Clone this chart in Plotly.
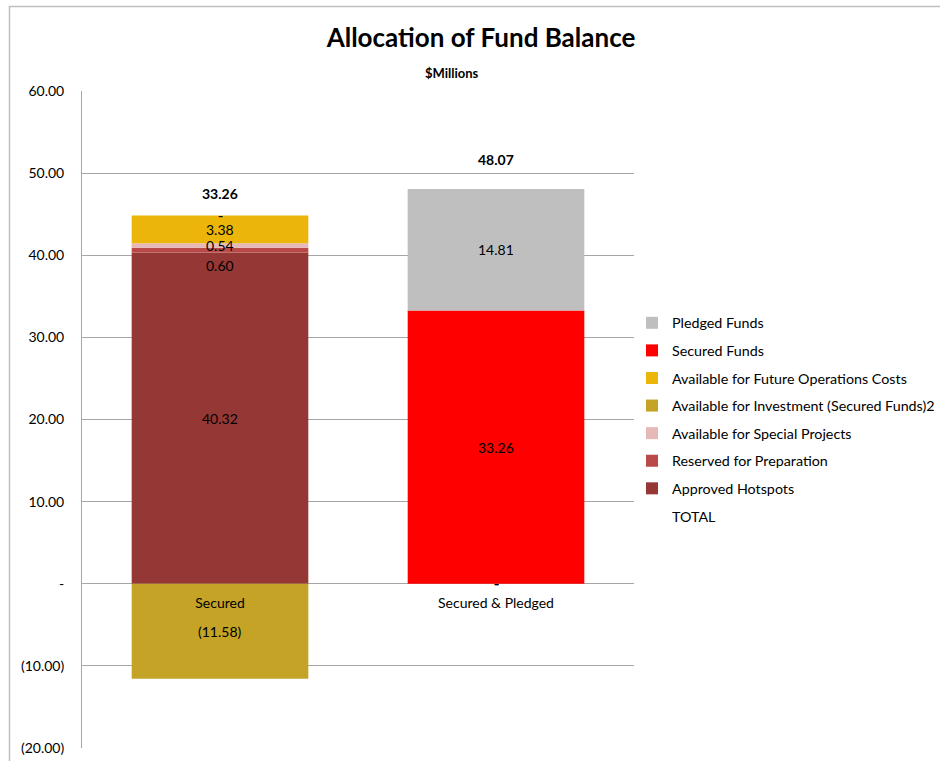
import plotly.graph_objects as go

categories = ["Secured", "Secured & Pledged"]

# series in stacking order (bottom to top)
series_names = [
    "Approved Hotspots",
    "Reserved for Preparation",
    "Available for Special Projects",
    "Available for Investment (Secured Funds)2",
    "Available for Future Operations Costs",
    "Secured Funds",
    "Pledged Funds",
]
approved_hotspots = [40.32, 0.0]
reserved_preparation = [0.60, 0.0]
special_projects = [0.54, 0.0]
investment = [-11.58, 0.0]
future_operations = [3.38, 0.0]
secured_funds = [0.0, 33.26]
pledged_funds = [0.0, 14.81]
totals = [33.26, 48.07]

series_values = [approved_hotspots, reserved_preparation, special_projects,
                 investment, future_operations, secured_funds, pledged_funds]
series_colors = ["#953735", "#B94A48", "#E6B9B8", "#C4A326", "#EBB50A", "#FF0000", "#BFBFBF"]
legend_order = {  # rank in the legend (top first)
    "Pledged Funds": 1, "Secured Funds": 2, "Available for Future Operations Costs": 3,
    "Available for Investment (Secured Funds)2": 4, "Available for Special Projects": 5,
    "Reserved for Preparation": 6, "Approved Hotspots": 7, "TOTAL": 8,
}

y_tickvals = [-20, -10, 0, 10, 20, 30, 40, 50, 60]
y_ticktext = ["(20.00)", "(10.00)", "-", "10.00", "20.00", "30.00", "40.00", "50.00", "60.00"]


def fmt(v):
    if abs(v) < 1e-9:
        return "-"
    if v < 0:
        return "({:,.2f})".format(-v)
    return "{:,.2f}".format(v)


FONT = "Lato, Calibri, 'Liberation Sans', sans-serif"
GRID = "#A6A6A6"
FS = 14

fig = go.Figure()
annotations = []
pos_top = [0.0] * len(categories)
neg_bot = [0.0] * len(categories)
label_shift = {("Reserved for Preparation", 0): -15}

for name, vals, col in zip(series_names, series_values, series_colors):
    fig.add_trace(go.Bar(
        x=categories, y=vals, name=name, marker=dict(color=col, line=dict(width=0)),
        legendgroup=name, legendrank=legend_order[name], textposition="none",
    ))
    for i, v in enumerate(vals):
        if v >= 0:
            base = pos_top[i]
            pos_top[i] += v
        else:
            base = neg_bot[i]
            neg_bot[i] += v
        annotations.append(dict(
            x=categories[i], y=base + v / 2, xref="x", yref="y", text=fmt(v),
            showarrow=False, font=dict(size=FS, color="#000000", family=FONT),
            yshift=label_shift.get((name, i), 0),
        ))

# TOTAL legend entry (no visible marker)
fig.add_trace(go.Bar(
    x=categories, y=[0.0, 0.0], name="TOTAL",
    marker=dict(color="rgba(0,0,0,0)", line=dict(width=0, color="rgba(0,0,0,0)")),
    legendgroup="TOTAL", legendrank=legend_order["TOTAL"], hoverinfo="skip", textposition="none",
))

total_shift = [22, 29]
for i, t in enumerate(totals):
    annotations.append(dict(
        x=categories[i], y=pos_top[i], xref="x", yref="y", text="<b>" + fmt(t) + "</b>",
        showarrow=False, yshift=total_shift[i],
        font=dict(size=FS, color="#000000", family=FONT),
    ))

annotations.append(dict(
    x=(481 - 82) / 552, y=1 + (91 - 63) / 657, xref="paper", yref="paper",
    text="<b>$Millions</b>", showarrow=False, font=dict(size=13, color="#000000", family=FONT),
))

fig.update_layout(
    width=940, height=761,
    margin=dict(l=82, r=306, t=91, b=13, autoexpand=False),
    paper_bgcolor="white", plot_bgcolor="white",
    barmode="relative", bargap=0.36,
    font=dict(family=FONT, size=FS, color="#000000"),
    title=dict(text="<b>Allocation of Fund Balance</b>", x=481 / 940, xanchor="center",
               y=1 - 38 / 761, yanchor="middle", font=dict(size=26, family=FONT, color="#000000")),
    legend=dict(x=(632 - 82) / 552, xanchor="left", y=1 - (307 - 91) / 657, yanchor="top",
                traceorder="grouped", tracegroupgap=6, font=dict(size=14.3, family=FONT),
                bgcolor="rgba(0,0,0,0)"),
    annotations=annotations,
    showlegend=True,
    shapes=[dict(type="rect", xref="paper", yref="paper",
                 x0=(9.5 - 82) / 552, x1=1.8, y0=-0.2, y1=1 + (91 - 6.5) / 657,
                 line=dict(color="#BFBFBF", width=1.5), fillcolor="rgba(0,0,0,0)", layer="below")],
)
fig.update_yaxes(range=[-20, 60], tickvals=y_tickvals, ticktext=y_ticktext, automargin=False,
                 showgrid=True, gridcolor=GRID, gridwidth=1, zeroline=True, zerolinecolor=GRID,
                 zerolinewidth=1, showline=True, linecolor=GRID, linewidth=1, ticks="",
                 ticklabelstandoff=14, tickfont=dict(size=FS, family=FONT))
fig.update_xaxes(anchor="free", position=0.25, showgrid=False, showline=False, zeroline=False,
                 automargin=False, ticks="", ticklabelstandoff=9, tickfont=dict(size=FS, family=FONT))

fig.write_html("out.html", config={"displayModeBar": False},
               post_script="document.body.style.margin='0';")
